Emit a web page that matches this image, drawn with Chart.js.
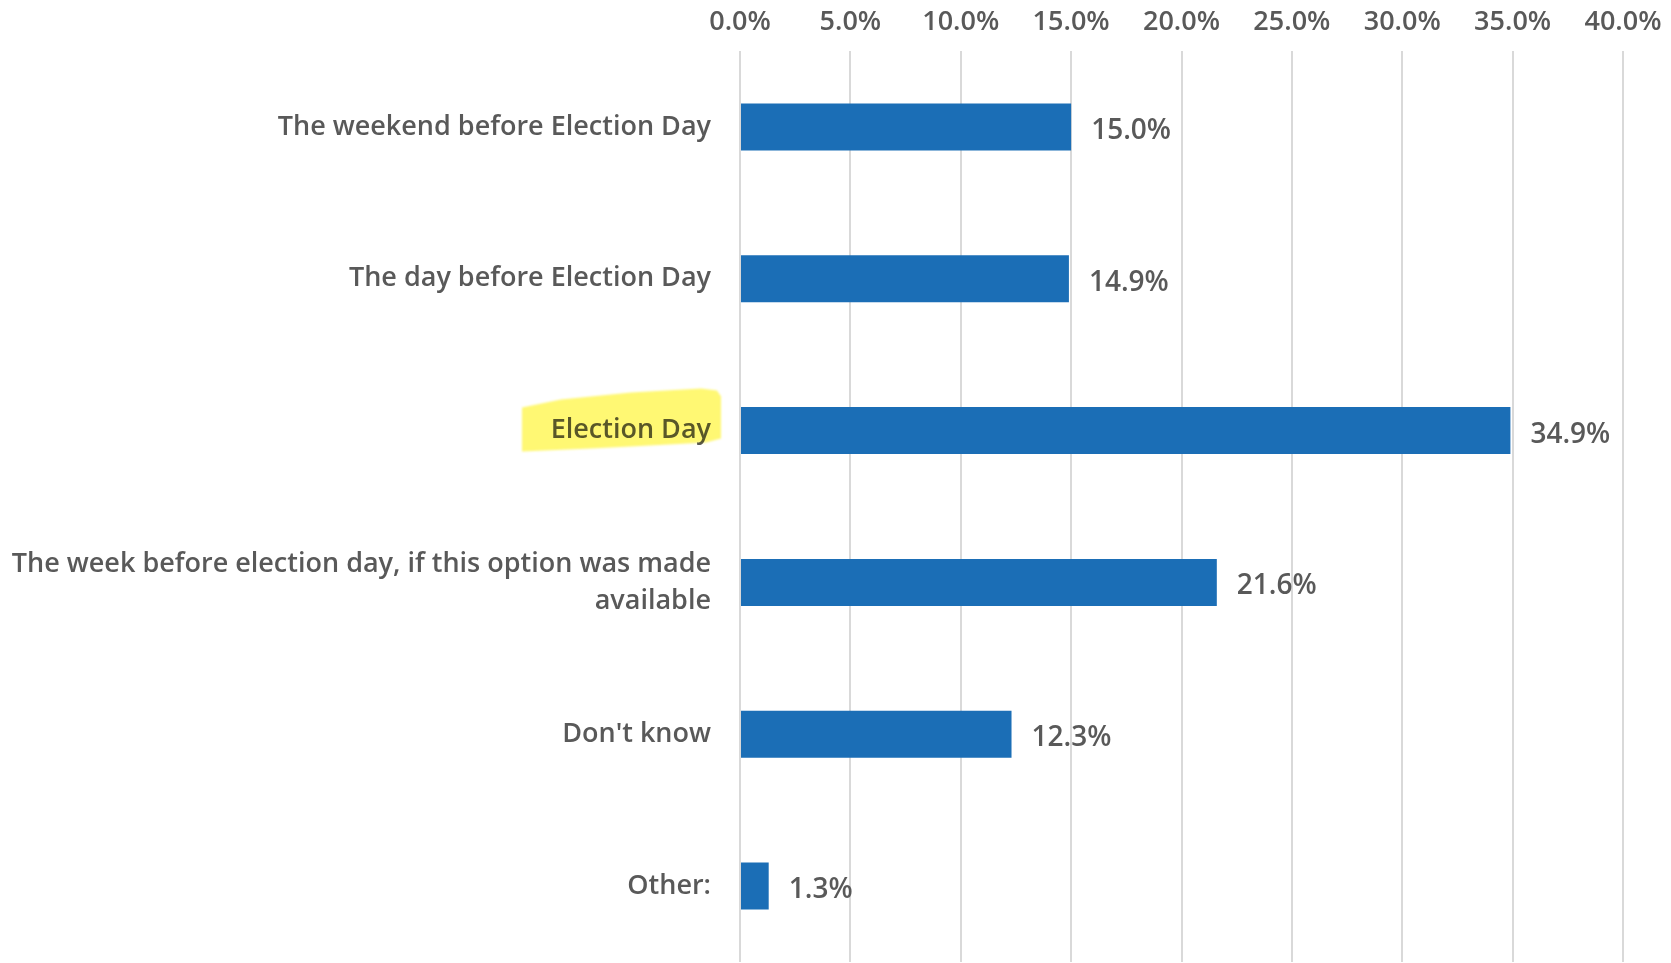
<!DOCTYPE html>
<html>
<head>
<meta charset="utf-8">
<script src="https://cdn.jsdelivr.net/npm/chart.js@4"></script>
<style>
  html, body { margin: 0; padding: 0; background: #ffffff; }
  canvas { display: block; }
</style>
</head>
<body>
<canvas id="votingdays" width="1671" height="963"></canvas>
<script>
var categories = [
    "The weekend before Election Day",
    "The day before Election Day",
    "Election Day",
    ["The week before election day, if this option was made", "available"],
    "Don't know",
    "Other:"
];
var shares = [15.0, 14.9, 34.9, 21.6, 12.3, 1.3];
var percentTicks = [0, 5, 10, 15, 20, 25, 30, 35, 40];
var markedCategory = "Election Day";

var textColor = "#595959";
var barColor = "#1b6eb6";
var labelFont = { family: "'Open Sans', sans-serif", size: 27, weight: "600", lineHeight: 1.37 };

// value labels to the right of each bar
var barValues = {
    id: "barValues",
    afterDatasetsDraw: function (chart) {
        var ctx = chart.ctx;
        var meta = chart.getDatasetMeta(0);
        ctx.save();
        ctx.font = "600 28px 'Open Sans', sans-serif";
        ctx.fillStyle = textColor;
        ctx.textAlign = "left";
        ctx.textBaseline = "middle";
        meta.data.forEach(function (bar, i) {
            ctx.fillText(shares[i].toFixed(1) + "%", bar.x + 20, bar.y + 4);
        });
        ctx.restore();
    }
};

// marker-pen highlight over one category label
var labelMarker = {
    id: "labelMarker",
    afterDraw: function (chart) {
        var yScale = chart.scales.y;
        var idx = categories.indexOf(markedCategory);
        if (idx < 0) return;
        var cy = yScale.getPixelForTick(idx);
        var rx = yScale.right - 29;
        var ctx = chart.ctx;
        ctx.save();
        ctx.globalCompositeOperation = "multiply";
        ctx.filter = "blur(1px)";
        ctx.fillStyle = "#fff873";
        ctx.beginPath();
        ctx.moveTo(rx - 189, cy - 23);
        ctx.lineTo(rx - 150, cy - 31);
        ctx.lineTo(rx - 80, cy - 38);
        ctx.lineTo(rx - 10, cy - 42);
        ctx.lineTo(rx + 6, cy - 40);
        ctx.lineTo(rx + 10, cy - 34);
        ctx.lineTo(rx + 10, cy + 8);
        ctx.lineTo(rx - 5, cy + 12);
        ctx.lineTo(rx - 80, cy + 16);
        ctx.lineTo(rx - 120, cy + 18);
        ctx.lineTo(rx - 189, cy + 21);
        ctx.closePath();
        ctx.fill();
        ctx.restore();
    }
};

var chartCanvas = document.getElementById("votingdays");
new Chart(chartCanvas, {
    type: "bar",
    data: {
        labels: categories,
        datasets: [
            {
                data: shares,
                backgroundColor: barColor,
                borderWidth: 0,
                barPercentage: 0.31,
                categoryPercentage: 1
            }
        ]
    },
    options: {
        indexAxis: "y",
        responsive: false,
        animation: false,
        devicePixelRatio: 1,
        layout: {
            padding: { left: 0, right: 48, top: 0, bottom: 1 }
        },
        plugins: {
            legend: { display: false },
            tooltip: { enabled: false }
        },
        scales: {
            x: {
                position: "top",
                min: 0,
                max: 40,
                afterBuildTicks: function (scale) {
                    scale.ticks = percentTicks.map(function (v) { return { value: v }; });
                },
                afterFit: function (scale) {
                    scale.height = 51;
                    scale.paddingLeft = 0;
                    scale.paddingRight = 0;
                },
                border: { display: false },
                grid: {
                    color: "#d9d9d9",
                    lineWidth: 2,
                    drawTicks: false
                },
                ticks: {
                    padding: 10,
                    color: textColor,
                    font: labelFont,
                    maxRotation: 0,
                    callback: function (value) {
                        return Number(value).toFixed(1) + "%";
                    }
                }
            },
            y: {
                afterFit: function (scale) {
                    scale.width = 740;
                    scale.paddingTop = 0;
                    scale.paddingBottom = 0;
                },
                border: { display: false },
                grid: { display: false, drawTicks: false },
                ticks: {
                    padding: 29,
                    color: textColor,
                    font: labelFont,
                    autoSkip: false
                }
            }
        }
    },
    plugins: [barValues, labelMarker]
});
</script>
</body>
</html>
